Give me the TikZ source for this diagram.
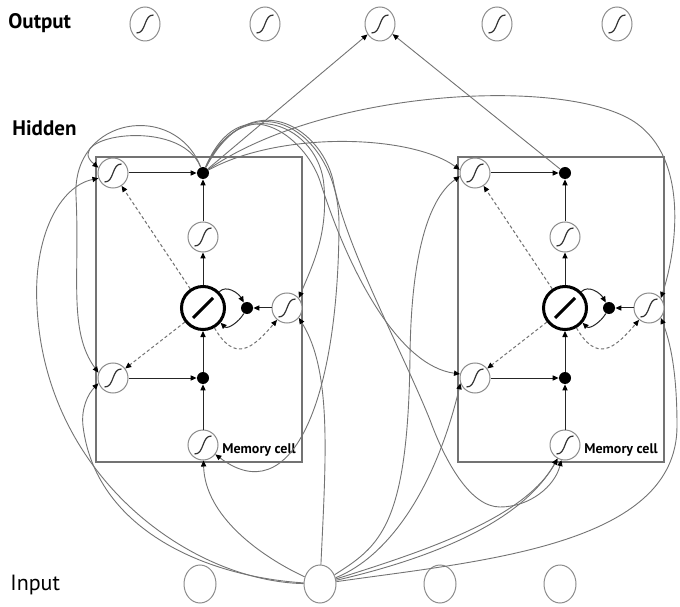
\documentclass[tikz,border=0pt]{standalone}
\usepackage{fontspec}
\setmainfont{PT Sans}
\usepackage{tikz}
\usetikzlibrary{arrows.meta,shapes.geometric}

\tikzset{
  sigmark/.style={path picture={\draw[black!80,line width=0.6pt,shift={(path picture bounding box.center)}]
      (-8.5,-9) .. controls (1.5,-9.5) and (-1.5,9.5) .. (8.5,9);}},
  gate/.style={circle,draw=black!45,fill=white,line width=0.5pt,minimum size=15pt,inner sep=0pt,sigmark},
  prod/.style={circle,fill=black,minimum size=6pt,inner sep=0pt},
  cellcore/.style={circle,draw=black,fill=white,line width=1.5pt,minimum size=21.5pt,inner sep=0pt,
      path picture={\draw[line width=1.5pt,shift={(path picture bounding box.center)}] (-10,-10) -- (10,10);}},
  unit/.style={ellipse,draw=black!45,line width=0.5pt,minimum width=16pt,minimum height=19pt,inner sep=0pt},
  outunit/.style={ellipse,draw=black!45,line width=0.5pt,minimum width=15pt,minimum height=17pt,inner sep=0pt,sigmark},
  cellframe/.style={draw=black!55,line width=0.9pt},
  wire/.style={draw=black!85,line width=0.5pt,->},
  peep/.style={draw=black!55,line width=0.5pt,dash pattern=on 1.6pt off 1.2pt,->},
  link/.style={draw=black!55,line width=0.45pt,->},
  lab/.style={inner sep=0pt,anchor=base west,font=\fontsize{10.5}{12}\selectfont}
}

\begin{document}
\begin{tikzpicture}[x=0.5pt,y=0.5pt,>={Triangle[length=3pt,width=2.6pt,color=black]}]
\useasboundingbox (0,0) rectangle (680,606);

\node[lab] (outlab) at (8,577) {\bfseries Output};
\node[lab] (hidlab) at (12,470) {\bfseries Hidden};
\node[lab,font=\fontsize{11}{12}\selectfont] (inlab) at (10,16) {Input};

\foreach \i/\x in {1/145,2/265,3/380,4/497,5/617}
  \node[outunit] (out\i) at (\x,582) {};
\foreach \i/\x in {1/200,2/320,3/440,4/560}
  \node[unit] (in\i) at (\x,22) {};

\foreach \c/\dx in {L/0,R/362}{
  \draw[cellframe] (\dx+96,144) rectangle (\dx+302,449);
  \node[gate] (\c tl) at (\dx+113,433) {};
  \node[prod] (\c top) at (\dx+203,433) {};
  \node[gate] (\c mid) at (\dx+203,369) {};
  \node[cellcore] (\c cell) at (\dx+203,298) {};
  \node[prod] (\c sd) at (\dx+247,298) {};
  \node[gate] (\c fg) at (\dx+287,298) {};
  \node[gate] (\c bl) at (\dx+113,228) {};
  \node[prod] (\c bd) at (\dx+203,228) {};
  \node[gate] (\c bs) at (\dx+203,161) {};
  \node[inner sep=0pt,anchor=base west,font=\fontsize{7}{8}\selectfont\bfseries] (\c lab) at (\dx+222,153) {Memory cell};
  \draw[wire] (\c tl) -- (\c top);
  \draw[wire] (\c mid) -- (\c top);
  \draw[wire] (\c cell) -- (\c mid);
  \draw[wire] (\c bl) -- (\c bd);
  \draw[wire] (\c bs) -- (\c bd);
  \draw[wire] (\c bd) -- (\c cell);
  \draw[wire] (\c fg) -- (\c sd);
  \draw[wire] (\c cell.45) to[out=45,in=120] (\c sd);
  \draw[wire] (\c sd) to[out=-120,in=-45] (\c cell.-40);
  \draw[peep] (\c cell) -- (\c tl);
  \draw[peep] (\c cell) -- (\c bl);
  \draw[peep] (\c cell.-60) to[out=-60,in=-130,looseness=1.6] (\c fg.-130);
}

\draw[link] (Ltop) -- (out3);
\draw[link] (Rtop) -- (out3);
\draw[link] (Ltop) .. controls (180,490) and (60,470) .. (Ltl.160);
\draw[link] (Ltop) .. controls (175,505) and (72,490) .. (76,410) .. controls (80,330) and (68,275) .. (Lbl.160);
\draw[link] (Ltop) .. controls (240,515) and (320,480) .. (324,420) .. controls (328,370) and (312,340) .. (Lfg.40);
\draw[link] (Ltop) .. controls (250,528) and (340,475) .. (339,380) .. controls (338,200) and (290,95) .. (Lbs);
\draw[link] (Ltop) .. controls (280,475) and (410,472) .. (Rtl.168);
\draw[link] (Ltop) .. controls (330,520) and (580,530) .. (640,480) .. controls (690,440) and (675,350) .. (Rfg.40);
\draw[link] (Ltop) .. controls (240,520) and (305,470) .. (320,425) .. controls (350,330) and (400,240) .. (Rbl.165);
\draw[link] (Ltop) .. controls (250,522) and (320,480) .. (333,426) .. controls (345,360) and (400,260) .. (430,186)
  .. controls (445,145) and (470,99) .. (500,99) .. controls (530,99) and (555,120) .. (Rbs);

\draw[link] (in2) .. controls (260,50) and (205,90) .. (Lbs);
\draw[link] (in2) .. controls (200,30) and (95,80) .. (83,180) .. controls (81,198) and (88,212) .. (Lbl.200);
\draw[link] (in2) .. controls (190,25) and (45,130) .. (37,300) .. controls (33,370) and (60,420) .. (Ltl.200);
\draw[link] (in2) .. controls (326,150) and (332,235) .. (Lfg.-40);
\draw[link] (in2) .. controls (380,60) and (408,80) .. (410,250) .. controls (411,340) and (425,405) .. (Rtl.192);
\draw[link] (in2) .. controls (390,50) and (436,120) .. (Rbl.200);
\draw[link] (in2) .. controls (420,45) and (520,80) .. (Rbs);
\draw[link] (in2) .. controls (425,55) and (525,88) .. (Rbs);
\draw[link] (in2) .. controls (480,45) and (677,60) .. (677,180) .. controls (677,235) and (670,265) .. (Rfg.-40);
\end{tikzpicture}
\end{document}
